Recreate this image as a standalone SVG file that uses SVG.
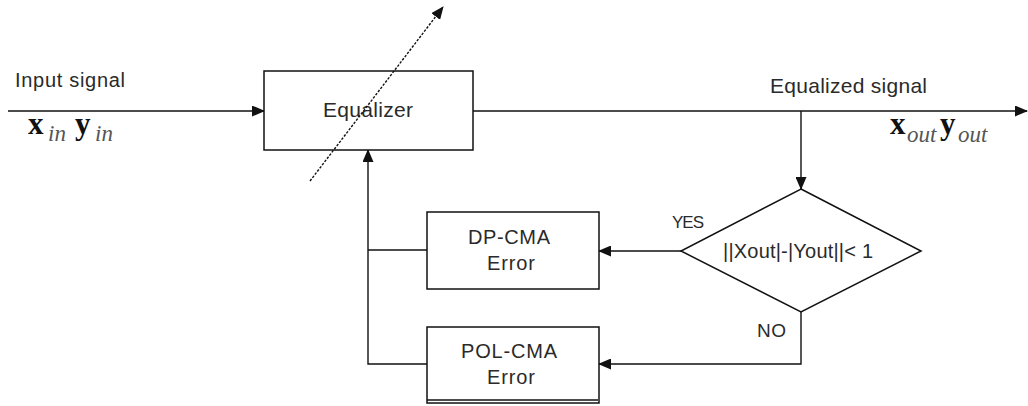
<svg xmlns="http://www.w3.org/2000/svg" width="1028" height="406" viewBox="0 0 1028 406">
<style>
.box{fill:#fff;stroke:#111;stroke-width:1.5}
.ln{fill:none;stroke:#111;stroke-width:1.4}
.t{font-family:"Liberation Sans",Arial,sans-serif;fill:#2a2a2a}
.bx{font-family:"Liberation Serif","Times New Roman",serif;font-weight:bold;font-size:31px;fill:#111}
.sub{font-family:"Liberation Serif","Times New Roman",serif;font-style:italic;font-size:23px;fill:#555}
</style>
<defs>
<marker id="ah" markerUnits="userSpaceOnUse" markerWidth="13" markerHeight="11" refX="12" refY="5.5" orient="auto">
<path d="M0,0 L13,5.5 L0,11 z" fill="#111"/>
</marker>
</defs>
<rect width="1028" height="406" fill="#fff"/>
<g id="connectors">
<line class="ln" x1="8" y1="111" x2="264" y2="111" marker-end="url(#ah)"/>
<line class="ln" x1="473" y1="111" x2="1027" y2="111" marker-end="url(#ah)"/>
<line class="ln" x1="801" y1="111" x2="801" y2="189" marker-end="url(#ah)"/>
<line class="ln" x1="681" y1="251" x2="599" y2="251" marker-end="url(#ah)"/>
<polyline class="ln" points="801,312 801,364 599,364" marker-end="url(#ah)"/>
<polyline class="ln" points="427,250 368,250"/>
<polyline class="ln" points="427,364 368,364 368,150" marker-end="url(#ah)"/>
</g>
<g id="equalizer">
<rect class="box" x="264" y="71" width="209" height="79"/>
<text class="t" x="368" y="117" font-size="21" text-anchor="middle" textLength="90">Equalizer</text>
</g>
<g id="adapt-arrow">
<line class="ln" x1="310" y1="181" x2="443" y2="7" stroke-dasharray="2.5 1.5" stroke-width="1.2" marker-end="url(#ah)"/>
</g>
<g id="decision">
<polygon class="box" points="801,189 921,251 801,312 681,251"/>
<text class="t" x="798" y="258" font-size="20" text-anchor="middle" textLength="150">||Xout|-|Yout||&lt; 1</text>
</g>
<g id="dp-cma">
<rect class="box" x="427" y="212" width="172" height="77"/>
<text class="t" x="509" y="244" font-size="20" text-anchor="middle" textLength="82">DP-CMA</text>
<text class="t" x="511" y="270" font-size="20" text-anchor="middle" textLength="48">Error</text>
</g>
<g id="pol-cma">
<rect class="box" x="427" y="327" width="172" height="76"/>
<line class="ln" x1="427" y1="400" x2="598" y2="400"/>
<text class="t" x="509" y="358" font-size="20" text-anchor="middle" textLength="96">POL-CMA</text>
<text class="t" x="511" y="384" font-size="20" text-anchor="middle" textLength="48">Error</text>
</g>
<g id="labels">
<text class="t" x="15" y="87" font-size="20" textLength="110">Input signal</text>
<text class="t" x="770" y="93" font-size="21" textLength="157">Equalized signal</text>
<text class="t" x="672" y="228" font-size="17" textLength="32">YES</text>
<text class="t" x="757" y="337" font-size="19" textLength="29">NO</text>
<text class="bx" x="28" y="134">x</text>
<text class="sub" x="48" y="141">in</text>
<text class="bx" x="75" y="134">y</text>
<text class="sub" x="95" y="141">in</text>
<text class="bx" x="890" y="134">x</text>
<text class="sub" x="907" y="142">out</text>
<text class="bx" x="940" y="134">y</text>
<text class="sub" x="958" y="142">out</text>
</g>
</svg>
